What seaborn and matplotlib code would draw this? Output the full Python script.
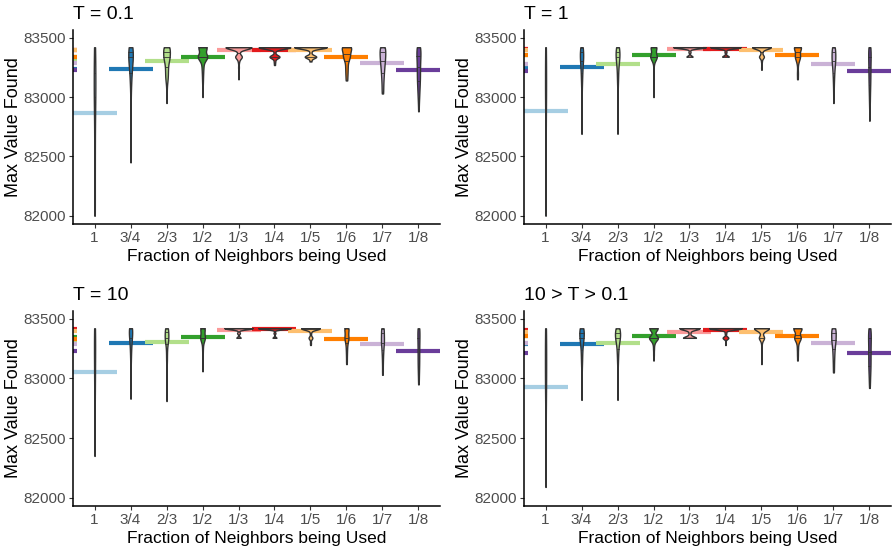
import numpy as np
import pandas as pd
import matplotlib
matplotlib.use("Agg")
import matplotlib.pyplot as plt
import seaborn as sns

# ---------------- data ----------------
categories = ["1", "3/4", "2/3", "1/2", "1/3", "1/4", "1/5", "1/6", "1/7", "1/8"]
palette_hex = ["#a6cee3", "#1f78b4", "#b2df8a", "#33a02c", "#fb9a99",
               "#e31a1c", "#fdbf6f", "#ff7f00", "#cab2d6", "#6a3d9a"]
panel_titles = ["T = 0.1", "T = 1", "T = 10", "10 > T > 0.1"]
y_ticks = [82000, 82500, 83000, 83500]

# observed value levels and how often each occurs, per category
t01_levels = [
    [82000, 82150, 82300, 82450, 82600, 82750, 82900, 83000, 83100, 83200, 83300, 83420],
    [83420, 83380, 83340, 83300, 83250, 83200, 83150, 83100, 83000, 82900, 82800, 82700, 82600, 82450],
    [83420, 83380, 83340, 83300, 83250, 83200, 83150, 83100, 83050, 82950],
    [83420, 83380, 83340, 83300, 83250, 83200, 83150, 83100, 83000],
    [83420, 83380, 83340, 83300, 83250, 83200, 83150],
    [83420, 83380, 83340, 83300, 83270],
    [83420, 83380, 83340, 83300],
    [83420, 83380, 83340, 83300, 83250, 83200, 83150, 83140],
    [83420, 83380, 83340, 83300, 83250, 83200, 83150, 83100, 83050, 83030],
    [83420, 83380, 83340, 83300, 83250, 83200, 83150, 83100, 83050, 83000, 82950, 82880],
]
t01_counts = [
    [8, 5, 5, 6, 6, 7, 9, 11, 11, 11, 9, 12],
    [20, 13, 19, 10, 8, 6, 6, 4, 3, 2, 2, 1, 2, 4],
    [22, 15, 19, 12, 9, 9, 8, 2, 2, 2],
    [34, 5, 37, 8, 6, 4, 3, 2, 1],
    [72, 3, 18, 3, 2, 1, 1],
    [70, 3, 22, 3, 2],
    [68, 4, 24, 4],
    [33, 17, 20, 9, 8, 7, 4, 2],
    [18, 14, 14, 14, 12, 9, 7, 5, 4, 3],
    [15, 10, 10, 10, 10, 10, 10, 8, 6, 5, 3, 3],
]

t1_levels = [
    [82000, 82150, 82300, 82450, 82600, 82750, 82900, 83000, 83100, 83200, 83300, 83420],
    [83420, 83380, 83340, 83300, 83250, 83200, 83150, 83100, 83000, 82900, 82800, 82690],
    [83420, 83380, 83340, 83300, 83250, 83200, 83150, 83100, 83000, 82900, 82800, 82690],
    [83420, 83380, 83340, 83300, 83250, 83200, 83150, 83100, 83000],
    [83420, 83380, 83340],
    [83420, 83380, 83340],
    [83420, 83380, 83340, 83300, 83250, 83230],
    [83420, 83380, 83340, 83300, 83250, 83200, 83150],
    [83420, 83380, 83340, 83300, 83250, 83200, 83150, 83100, 83050, 83000, 82950],
    [83420, 83380, 83340, 83300, 83250, 83200, 83150, 83100, 83050, 83000, 82950, 82900, 82800],
]
t1_counts = [
    [7, 5, 5, 6, 6, 7, 9, 11, 11, 11, 10, 12],
    [15, 15, 18, 12, 9, 7, 6, 5, 4, 3, 3, 3],
    [18, 16, 20, 12, 8, 6, 6, 4, 4, 3, 2, 1],
    [38, 5, 42, 5, 2, 1, 4, 1, 2],
    [80, 5, 15],
    [78, 5, 17],
    [70, 6, 18, 3, 2, 1],
    [38, 15, 25, 10, 3, 5, 4],
    [15, 15, 15, 17, 12, 8, 6, 4, 3, 2, 3],
    [13, 10, 10, 10, 10, 10, 9, 8, 6, 5, 4, 3, 2],
]

t10_levels = [
    [82350, 82500, 82650, 82800, 82900, 83000, 83100, 83200, 83300, 83420],
    [83420, 83380, 83340, 83300, 83250, 83200, 83150, 83100, 83000, 82900, 82830],
    [83420, 83380, 83340, 83300, 83250, 83200, 83150, 83100, 83000, 82900, 82810],
    [83420, 83380, 83340, 83300, 83250, 83200, 83150, 83060],
    [83420, 83380, 83340],
    [83420, 83380, 83340],
    [83420, 83380, 83340, 83300, 83280],
    [83420, 83380, 83340, 83300, 83250, 83200, 83150, 83120],
    [83420, 83380, 83340, 83300, 83250, 83200, 83150, 83100, 83050, 83030],
    [83420, 83380, 83340, 83300, 83250, 83200, 83150, 83100, 83050, 83000, 82950],
]
t10_counts = [
    [7, 4, 5, 7, 8, 10, 12, 14, 16, 17],
    [30, 15, 15, 10, 8, 6, 4, 3, 3, 3, 3],
    [25, 10, 30, 10, 6, 5, 6, 2, 2, 2, 2],
    [33, 10, 35, 7, 5, 3, 4, 3],
    [80, 8, 12],
    [85, 5, 10],
    [75, 5, 15, 3, 2],
    [30, 12, 25, 12, 8, 6, 4, 3],
    [18, 12, 15, 18, 12, 8, 6, 4, 4, 3],
    [14, 10, 10, 10, 10, 10, 10, 9, 7, 5, 5],
]

tmix_levels = [
    [82090, 82200, 82350, 82500, 82650, 82800, 82900, 83000, 83100, 83200, 83300, 83420],
    [83420, 83380, 83340, 83300, 83250, 83200, 83150, 83100, 83000, 82900, 82820],
    [83420, 83380, 83340, 83300, 83250, 83200, 83150, 83100, 83000, 82900, 82820],
    [83420, 83380, 83340, 83300, 83250, 83200, 83150],
    [83420, 83380, 83340],
    [83420, 83380, 83340, 83300, 83280],
    [83420, 83380, 83340, 83300, 83250, 83200, 83150, 83120],
    [83420, 83380, 83340, 83300, 83250, 83200, 83150],
    [83420, 83380, 83340, 83300, 83250, 83200, 83150, 83100, 83050],
    [83420, 83380, 83340, 83300, 83250, 83200, 83150, 83100, 83050, 83000, 82950, 82920],
]
tmix_counts = [
    [6, 5, 5, 5, 6, 7, 9, 11, 11, 11, 11, 13],
    [22, 18, 18, 10, 7, 6, 5, 4, 4, 3, 3],
    [20, 20, 22, 10, 8, 6, 4, 3, 3, 2, 2],
    [38, 5, 40, 8, 4, 3, 2],
    [58, 5, 37],
    [80, 4, 14, 1, 1],
    [65, 5, 22, 3, 2, 1, 1, 1],
    [40, 10, 30, 8, 5, 4, 3],
    [18, 16, 16, 16, 10, 8, 6, 5, 5],
    [10, 10, 10, 10, 10, 10, 10, 10, 8, 5, 5, 2],
]

panels = [(t01_levels, t01_counts), (t1_levels, t1_counts),
          (t10_levels, t10_counts), (tmix_levels, tmix_counts)]


def build_frame(levels, counts):
    parts = []
    for cat, lv, ct in zip(categories, levels, counts):
        parts.append(pd.DataFrame({"frac": cat, "value": np.repeat(lv, ct)}))
    df = pd.concat(parts, ignore_index=True)
    df["frac"] = pd.Categorical(df["frac"], categories=categories, ordered=True)
    return df


# ---------------- style ----------------
sns.set_theme(style="ticks")
plt.rcParams["font.family"] = ["Liberation Sans", "DejaVu Sans"]

fig = plt.figure(figsize=(8.92, 5.52), dpi=100)
axes_pos = [
    [0.0818, 0.5942, 0.4115, 0.3514],
    [0.5874, 0.5942, 0.4115, 0.3514],
    [0.0818, 0.0833, 0.4115, 0.3533],
    [0.5874, 0.0833, 0.4115, 0.3533],
]

for pos, title, (levels, counts) in zip(axes_pos, panel_titles, panels):
    ax = fig.add_axes(pos)
    df = build_frame(levels, counts)
    means = df.groupby("frac", observed=True)["value"].mean()

    # short mean stubs at the left edge of the panel
    ax.hlines(means.values, -0.6, -0.5, colors=palette_hex, linewidth=3.0, zorder=0.4)

    # mean bars
    n0 = len(ax.lines)
    sns.pointplot(data=df, x="frac", y="value", hue="frac", order=categories,
                  hue_order=categories, palette=palette_hex, estimator="mean",
                  errorbar=None, markers="_", markersize=31, markeredgewidth=3.0,
                  linestyle="none", legend=False, ax=ax)
    for ln in ax.lines[n0:]:
        ln.set_zorder(0.5)

    # violins
    n1 = len(ax.lines)
    sns.violinplot(data=df, x="frac", y="value", hue="frac", order=categories,
                   hue_order=categories, palette=palette_hex, saturation=1,
                   cut=0, inner="quart", density_norm="area", common_norm=True,
                   bw_adjust=0.85, width=0.9, linewidth=1.0, linecolor="#333333",
                   legend=False, ax=ax)
    for ln in ax.lines[n1:]:
        ln.set_linestyle("-")
        ln.set_linewidth(0.6)
        ln.set_color("#333333")

    ax.set_xlim(-0.6, 9.6)
    ax.set_ylim(81930, 83565)
    ax.set_yticks(y_ticks)
    ax.set_yticklabels([str(t) for t in y_ticks])
    ax.set_xticks(range(len(categories)))
    ax.set_xticklabels(categories)
    ax.tick_params(axis="both", labelsize=11, labelcolor="#4d4d4d",
                   color="#333333", length=3, width=0.8, pad=2)
    for side in ["top", "right"]:
        ax.spines[side].set_visible(False)
    for side in ["left", "bottom"]:
        ax.spines[side].set_color("black")
        ax.spines[side].set_linewidth(1.1)
    ax.set_xlabel("Fraction of Neighbors being Used", fontsize=12.5, color="black", labelpad=3)
    ax.set_ylabel("Max Value Found", fontsize=13, color="black", labelpad=1)
    ax.set_title(title, loc="left", fontsize=14, color="black", pad=8)

fig.savefig("out.png", dpi=100)
